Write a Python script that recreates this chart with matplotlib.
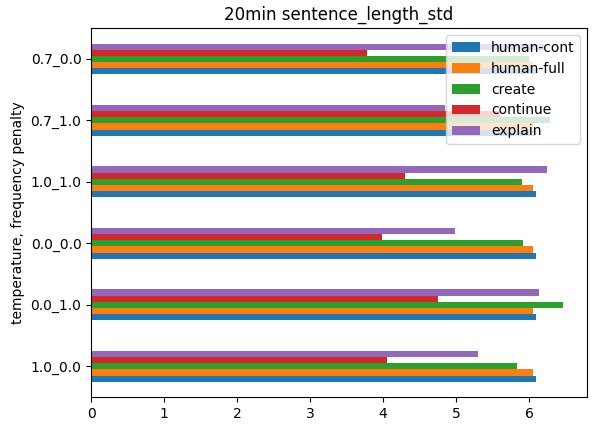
import matplotlib
matplotlib.use("Agg")
import matplotlib.pyplot as plt
import pandas as pd

categories = ['1.0_0.0', '0.0_1.0', '0.0_0.0', '1.0_1.0', '0.7_1.0', '0.7_0.0']
human_cont = [6.1, 6.1, 6.1, 6.1, 6.1, 6.1]
human_full = [6.05, 6.05, 6.05, 6.05, 6.05, 6.05]
create = [5.83, 6.47, 5.92, 5.9, 6.28, 6.0]
cont = [4.05, 4.75, 3.98, 4.3, 5.6, 3.78]
explain = [5.3, 6.13, 4.98, 6.25, 4.85, 6.2]

df = pd.DataFrame({
    'human-cont': human_cont,
    'human-full': human_full,
    'create': create,
    'continue': cont,
    'explain': explain,
}, index=categories)

fig, ax = plt.subplots(figsize=(5.96, 4.33), dpi=100)
df.plot.barh(ax=ax)
ax.set_title('20min sentence_length_std')
ax.set_ylabel('temperature, frequency penalty')
ax.legend(loc='upper right')
fig.subplots_adjust(left=0.153, right=0.985, top=0.935, bottom=0.083)
fig.savefig('out.png')
